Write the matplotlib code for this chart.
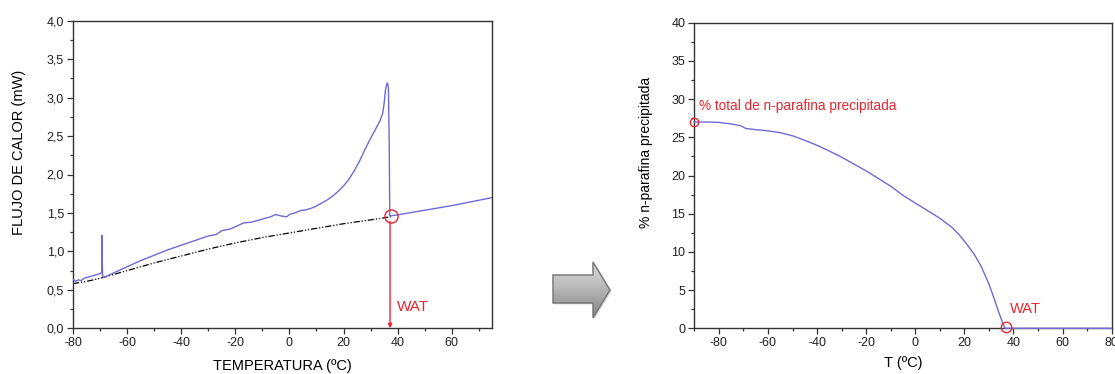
import matplotlib
matplotlib.use("Agg")
import matplotlib.pyplot as plt
import numpy as np
from matplotlib.ticker import MultipleLocator, FuncFormatter
from matplotlib.patches import Polygon

plt.rcParams['font.family'] = ['Liberation Sans', 'DejaVu Sans']

# ---------------- data ----------------
# Left: DSC curve (heat flow, mW) vs temperature (ºC)
dsc_T = [-80, -79, -78, -77, -76, -74, -72, -70, -69.4, -69.3, -69.1, -68.8, -68, -65,
         -60, -55, -50, -45, -40, -35, -30, -27, -25, -22, -20, -17, -14, -10, -7, -5,
         -3, -1, 0, 2, 4, 6, 8, 10, 12, 14, 16, 18, 20, 22, 24, 26, 28, 30, 32, 33.5,
         34.5, 35.0, 35.5, 36.0, 36.3, 36.6, 36.9, 37.1, 40, 45, 50, 55, 60, 65, 70, 75]
dsc_q = [0.64, 0.61, 0.63, 0.62, 0.65, 0.67, 0.69, 0.71, 0.73, 1.21, 0.70, 0.66, 0.67, 0.72,
         0.80, 0.88, 0.95, 1.02, 1.08, 1.14, 1.20, 1.22, 1.27, 1.29, 1.32, 1.37, 1.38, 1.42, 1.45, 1.48,
         1.46, 1.45, 1.48, 1.50, 1.53, 1.54, 1.56, 1.59, 1.63, 1.67, 1.72, 1.78, 1.85, 1.94, 2.05, 2.18, 2.33, 2.47, 2.60, 2.70,
         2.80, 2.92, 3.10, 3.18, 3.19, 3.12, 2.40, 1.46, 1.475, 1.505, 1.535, 1.565, 1.595, 1.63, 1.665, 1.70]

# Left: baseline (dash-dot)
base_T = [-80, -75, -70, -65, -60, -50, -40, -30, -20, -10, 0, 10, 20, 30, 37.5]
base_q = [0.58, 0.61, 0.65, 0.70, 0.75, 0.85, 0.94, 1.03, 1.11, 1.18, 1.24, 1.30, 1.36, 1.41, 1.45]

wat_T = 37.2
wat_q = 1.46

# Right: % n-paraffin precipitated vs T (ºC)
prec_T = [-90, -85, -80, -75, -71, -69, -65, -60, -55, -50, -45, -40, -35, -30, -25, -20,
          -15, -10, -5, 0, 5, 10, 15, 18, 21, 24, 27, 30, 32, 34, 35.5, 36.5, 40, 80]
prec_v = [27.0, 27.0, 26.95, 26.75, 26.5, 26.15, 26.0, 25.85, 25.6, 25.2, 24.6, 23.95, 23.2, 22.4, 21.5, 20.6,
          19.6, 18.6, 17.4, 16.4, 15.4, 14.4, 13.2, 12.2, 11.0, 9.7, 8.0, 5.8, 4.0, 2.1, 0.8, 0.0, 0.0, 0.0]

total_T, total_v = -90, 27.0
wat2_T, wat2_v = 37, 0.0

# ---------------- figure ----------------
W, H = 1115, 374
fig = plt.figure(figsize=(W / 100, H / 100), dpi=100)

blue = '#6f6ad4'
red = '#e8262e'
spine_c = '#333333'

ax1 = fig.add_axes([73 / W, 1 - 328.3 / H, (492.3 - 73) / W, (328.3 - 20.7) / H])
ax2 = fig.add_axes([694.3 / W, 1 - 328.3 / H, (1111.7 - 694.3) / W, (328.3 - 22.7) / H])

for ax in (ax1, ax2):
    for s in ax.spines.values():
        s.set_color(spine_c)
        s.set_linewidth(1.0)
    ax.tick_params(which='both', direction='out', top=False, right=False,
                   colors=spine_c, labelcolor='#222222', labelsize=9, width=0.9)
    ax.tick_params(which='major', length=4.5, pad=2)
    ax.tick_params(which='minor', length=2.5)

# Left chart
ax1.plot(base_T, base_q, color='black', lw=0.9,
         linestyle=(0, (5, 1.5, 1, 1.5, 1, 1.5)), zorder=2)
ax1.plot(dsc_T, dsc_q, color=blue, lw=1.0, zorder=3)
ax1.set_xlim(-80, 75)
ax1.set_ylim(0, 4)
ax1.xaxis.set_major_locator(MultipleLocator(20))
ax1.xaxis.set_minor_locator(MultipleLocator(10))
ax1.yaxis.set_major_locator(MultipleLocator(0.5))
ax1.yaxis.set_minor_locator(MultipleLocator(0.25))
ax1.yaxis.set_major_formatter(FuncFormatter(lambda v, p: f"{v:.1f}".replace('.', ',')))
ax1.xaxis.set_major_formatter(FuncFormatter(lambda v, p: f"{v:.0f}"))
ax1.set_xlabel('TEMPERATURA (ºC)', fontsize=10.5)
ax1.set_ylabel('FLUJO DE CALOR (mW)', fontsize=10.5)
ax1.xaxis.set_label_coords(0.5, -0.1)
ax1.yaxis.set_label_coords(-0.112, 0.573)

ax1.plot([wat_T + 0.5], [wat_q], marker='o', ms=9.5, mfc='none', mec=red, mew=1.0, zorder=4)
ax1.annotate('', xy=(wat_T, 0.0), xytext=(wat_T, wat_q - 0.07),
             arrowprops=dict(arrowstyle='-|>', color=red, lw=1.0, mutation_scale=6,
                             shrinkA=0, shrinkB=0), zorder=4)
ax1.text(wat_T + 2.6, 0.22, 'WAT', color=red, fontsize=11, ha='left', va='baseline')

# Right chart
ax2.plot(prec_T, prec_v, color=blue, lw=1.0, zorder=3, clip_on=False)
ax2.set_xlim(-90, 80)
ax2.set_ylim(0, 40)
ax2.xaxis.set_major_locator(MultipleLocator(20))
ax2.xaxis.set_minor_locator(MultipleLocator(10))
ax2.yaxis.set_major_locator(MultipleLocator(5))
ax2.yaxis.set_minor_locator(MultipleLocator(2.5))
ax2.xaxis.set_major_formatter(FuncFormatter(lambda v, p: f"{v:.0f}"))
ax2.yaxis.set_major_formatter(FuncFormatter(lambda v, p: f"{v:.0f}"))
ax2.set_xlabel('T (ºC)', fontsize=10.5)
ax2.set_ylabel('% n-parafina precipitada', fontsize=10)
ax2.xaxis.set_label_coords(0.5, -0.09)
ax2.yaxis.set_label_coords(-0.099, 0.577)

ax2.plot([total_T], [total_v], marker='o', ms=6, mfc='none', mec=red, mew=1.0,
         zorder=4, clip_on=False)
ax2.plot([wat2_T], [wat2_v + 0.2], marker='o', ms=7.5, mfc='none', mec=red, mew=1.0,
         zorder=4, clip_on=False)
ax2.text(-88, 28.6, '% total de n-parafina precipitada', color=red, fontsize=9.8,
         ha='left', va='baseline')
ax2.text(38.5, 2.0, 'WAT', color=red, fontsize=10.5, ha='left', va='baseline')

# Gray arrow between the charts (decoration)
axa = fig.add_axes([548 / W, 1 - 322 / H, 66 / W, 64 / H])
axa.set_xlim(548, 614)
axa.set_ylim(322, 258)
axa.axis('off')
pts = [(553, 275), (593, 275), (593, 262), (610, 290), (593, 318), (593, 303), (553, 303)]
shadow = Polygon([(x + 1.5, y + 1.5) for x, y in pts], closed=True, fc='#dcdcdc', ec='none', zorder=1)
axa.add_patch(shadow)
poly = Polygon(pts, closed=True, fc='none', ec='#7a7a7a', lw=1.1, zorder=3)
grad = np.linspace(0, 1, 100).reshape(-1, 1)
im = axa.imshow(grad, extent=(553, 610, 318, 262), cmap=plt.get_cmap('Greys'),
                vmin=-0.8, vmax=2.4, aspect='auto', zorder=2, origin='upper')
axa.add_patch(poly)
clip = Polygon(pts, closed=True, transform=axa.transData)
im.set_clip_path(clip)

fig.savefig('out.png', dpi=100)
